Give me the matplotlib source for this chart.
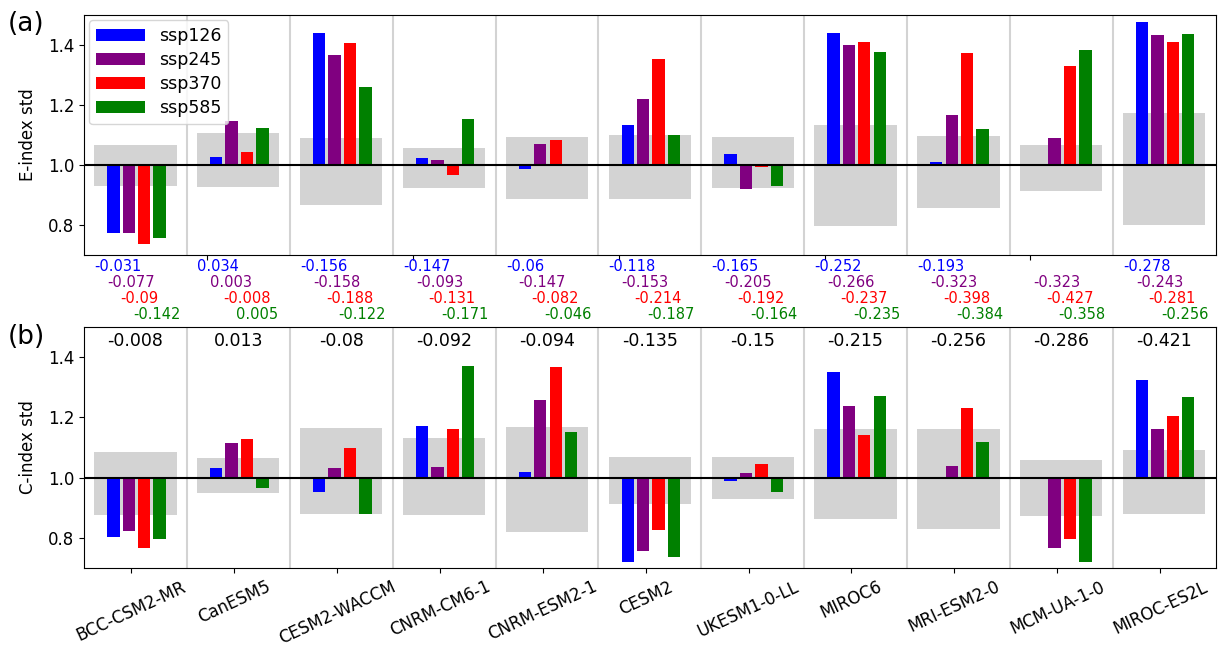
import numpy as np
import matplotlib
matplotlib.use("Agg")
import matplotlib.pyplot as plt

nan = np.nan

models = ["BCC-CSM2-MR", "CanESM5", "CESM2-WACCM", "CNRM-CM6-1", "CNRM-ESM2-1",
          "CESM2", "UKESM1-0-LL", "MIROC6", "MRI-ESM2-0", "MCM-UA-1-0", "MIROC-ES2L"]
scenarios = ["ssp126", "ssp245", "ssp370", "ssp585"]
colors = ["blue", "purple", "red", "green"]

# (a) E-index std
e_ssp126 = [0.772, 1.026, 1.439, 1.022, 0.987, 1.134, 1.037, 1.439, 1.010, nan, 1.476]
e_ssp245 = [0.772, 1.146, 1.366, 1.017, 1.069, 1.219, 0.919, 1.399, 1.166, 1.089, 1.433]
e_ssp370 = [0.736, 1.042, 1.406, 0.967, 1.083, 1.352, 0.994, 1.408, 1.373, 1.328, 1.409]
e_ssp585 = [0.757, 1.124, 1.259, 1.153, 1.000, 1.098, 0.930, 1.376, 1.121, 1.384, 1.437]
e_band_hi = [1.067, 1.106, 1.089, 1.058, 1.092, 1.098, 1.092, 1.134, 1.097, 1.066, 1.173]
e_band_lo = [0.930, 0.928, 0.868, 0.922, 0.887, 0.887, 0.924, 0.797, 0.858, 0.913, 0.800]

# numbers printed under panel (a), one row per scenario
e_r126 = [-0.031, 0.034, -0.156, -0.147, -0.06, -0.118, -0.165, -0.252, -0.193, None, -0.278]
e_r245 = [-0.077, 0.003, -0.158, -0.093, -0.147, -0.153, -0.205, -0.266, -0.323, -0.323, -0.243]
e_r370 = [-0.09, -0.008, -0.188, -0.131, -0.082, -0.214, -0.192, -0.237, -0.398, -0.427, -0.281]
e_r585 = [-0.142, 0.005, -0.122, -0.171, -0.046, -0.187, -0.164, -0.235, -0.384, -0.358, -0.256]

# (b) C-index std
c_ssp126 = [0.803, 1.032, 0.952, 1.173, 1.018, 0.721, 0.988, 1.350, nan, nan, 1.324]
c_ssp245 = [0.823, 1.114, 1.032, 1.036, 1.257, 0.755, 1.015, 1.238, 1.039, 0.765, 1.160]
c_ssp370 = [0.768, 1.129, 1.097, 1.162, 1.366, 0.826, 1.045, 1.142, 1.232, 0.797, 1.206]
c_ssp585 = [0.798, 0.966, 0.878, 1.369, 1.152, 0.737, 0.951, 1.272, 1.120, 0.720, 1.267]
c_band_hi = [1.086, 1.065, 1.164, 1.133, 1.168, 1.067, 1.068, 1.160, 1.162, 1.059, 1.091]
c_band_lo = [0.877, 0.948, 0.881, 0.877, 0.820, 0.913, 0.929, 0.862, 0.830, 0.872, 0.880]
c_r = [-0.008, 0.013, -0.08, -0.092, -0.094, -0.135, -0.15, -0.215, -0.256, -0.286, -0.421]

x = np.arange(len(models))
bw = 0.12
offs = [-0.215, -0.065, 0.085, 0.235]

fig = plt.figure(figsize=(12.18, 6.47), dpi=100)
ax1 = fig.add_axes([0.069, 0.606, 0.929, 0.371])
ax2 = fig.add_axes([0.069, 0.122, 0.929, 0.3726])


def panel(ax, series, lo, hi, ylabel):
    ax.bar(x, np.array(hi) - np.array(lo), bottom=lo, width=0.8,
           color="lightgray", zorder=1)
    for s, c, o, name in zip(series, colors, offs, scenarios):
        ax.bar(x + o, np.array(s) - 1, bottom=1, width=bw, color=c,
               zorder=3, label=name)
    for i in range(len(models) - 1):
        ax.axvline(i + 0.5, color="lightgray", lw=1.5, zorder=0)
    ax.axhline(1.0, color="black", lw=1.5, zorder=4)
    ax.set_xlim(-0.5, len(models) - 0.5)
    ax.set_ylim(0.7, 1.5)
    ax.set_yticks([0.8, 1.0, 1.2, 1.4])
    ax.tick_params(labelsize=12)
    ax.set_ylabel(ylabel, fontsize=12)
    ax.yaxis.set_label_coords(-0.0415, 0.5)


panel(ax1, [e_ssp126, e_ssp245, e_ssp370, e_ssp585], e_band_lo, e_band_hi, "E-index std")
panel(ax2, [c_ssp126, c_ssp245, c_ssp370, c_ssp585], c_band_lo, c_band_hi, "C-index std")

ax1.set_xticks([0.7, 2.7, 4.7, 6.7, 8.7])
ax1.set_xticklabels([])
ax1.legend(loc="upper left", fontsize=12.5, handlelength=2.8,
           labelspacing=0.35, borderaxespad=0.3)

ax2.set_xticks(x - 0.04)
ax2.set_xticklabels(models, rotation=25, ha="center", fontsize=12)

# correlation numbers under panel (a)
rows = [e_r126, e_r245, e_r370, e_r585]
for k, (vals, c) in enumerate(zip(rows, colors)):
    for i, v in enumerate(vals):
        if v is None:
            continue
        ax1.text(i - 0.4 + 0.125 * k, 0.66 - 0.0533 * k, str(v), color=c,
                 fontsize=10.5, ha="left", va="center", clip_on=False)

# numbers on top of panel (b)
for i, v in enumerate(c_r):
    ax2.text(i, 1.453, str(v), fontsize=12.5, ha="center", va="center")

fig.text(0.0066, 0.963, "(a)", fontsize=19, va="center", ha="left")
fig.text(0.0066, 0.479, "(b)", fontsize=19, va="center", ha="left")

fig.savefig("out.png", dpi=100)
